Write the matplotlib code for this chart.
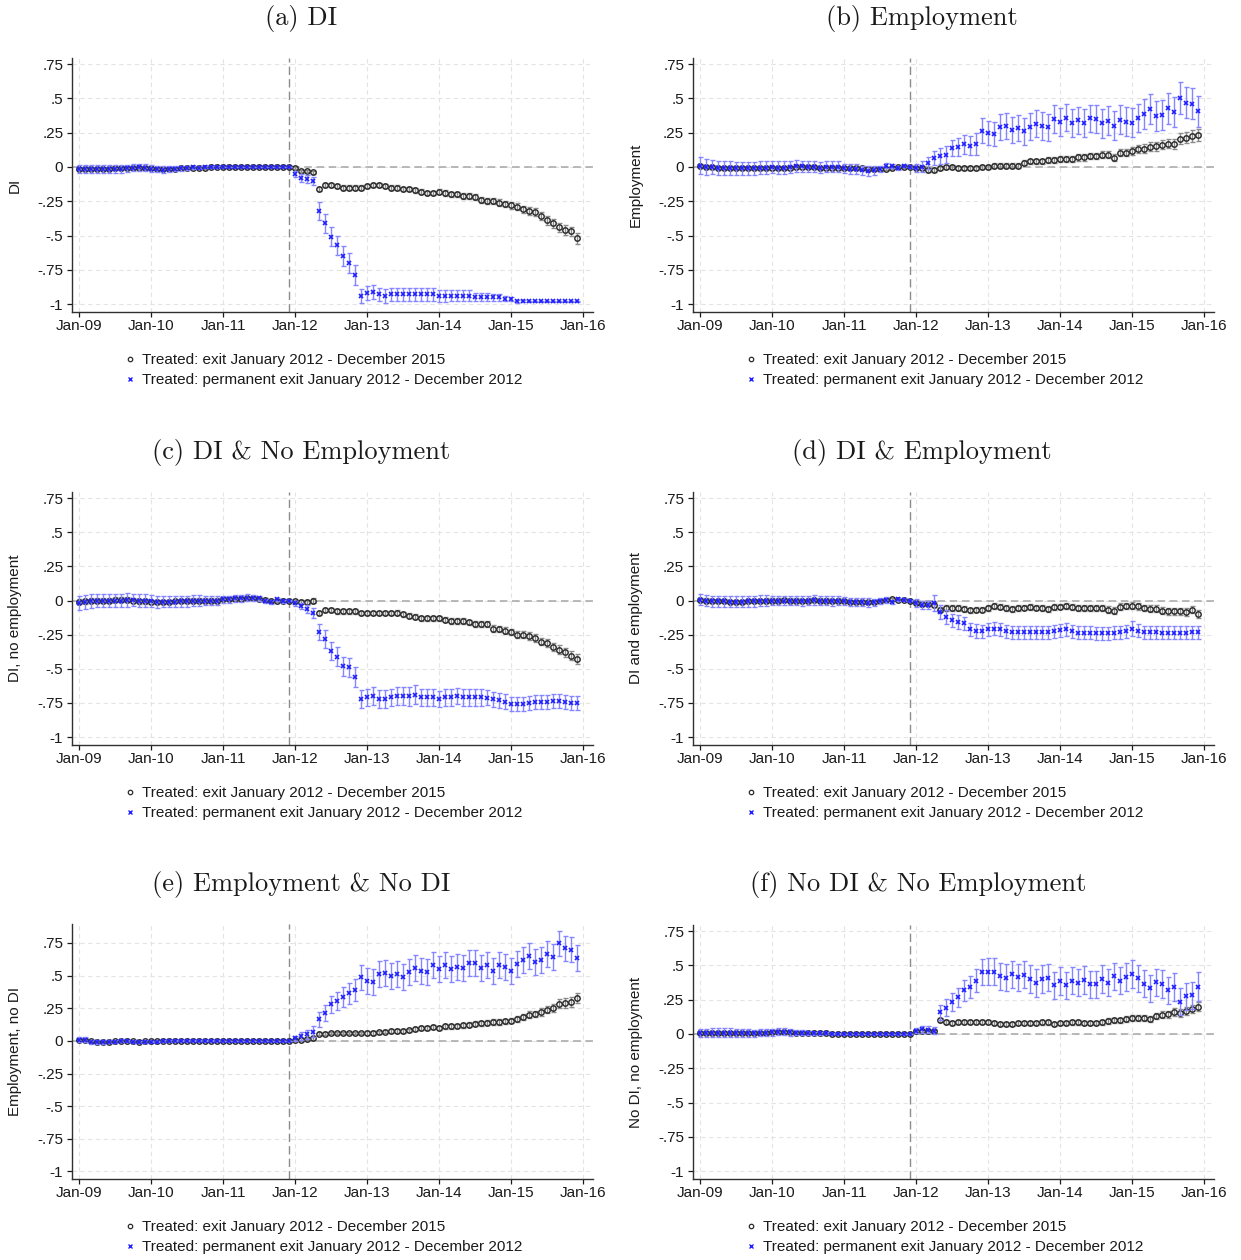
import matplotlib
matplotlib.use("Agg")
import matplotlib.pyplot as plt
from matplotlib.lines import Line2D

plt.rcParams["font.family"] = ["Liberation Sans", "DejaVu Sans"]
plt.rcParams["axes.formatter.use_mathtext"] = True

# --- Eje temporal: meses desde Jan-09 (0) hasta Dec-15 (83) ---
MONTHS = list(range(84))
EVENT_MONTH = 35  # Dec-11, mes de referencia
X_TICKS = [0, 12, 24, 36, 48, 60, 72, 84]
X_LABELS = ["Jan-09", "Jan-10", "Jan-11", "Jan-12", "Jan-13", "Jan-14", "Jan-15", "Jan-16"]
Y_TICKS = [-1, -0.75, -0.5, -0.25, 0, 0.25, 0.5, 0.75]
Y_LABELS = ["-1", "-.75", "-.5", "-.25", "0", ".25", ".5", ".75"]

LEGEND_LABELS = ["Treated: exit January 2012 - December 2015",
                 "Treated: permanent exit January 2012 - December 2012"]

# --- (a) DI ---
a_exit = [-0.015, -0.015, -0.012, -0.012, -0.012, -0.012, -0.01, -0.01, -0.01, -0.005, -0.005, -0.008,
          -0.01, -0.012, -0.015, -0.015, -0.012, -0.01, -0.008, -0.005, -0.005, -0.005, -0.003, -0.003,
          -0.002, 0, 0, 0, 0, 0, 0, 0, 0, 0, 0, 0,
          -0.01, -0.03, -0.03, -0.04, -0.16, -0.13, -0.13, -0.14, -0.15, -0.15, -0.15, -0.15,
          -0.14, -0.13, -0.13, -0.14, -0.15, -0.15, -0.16, -0.16, -0.17, -0.18, -0.19, -0.19,
          -0.18, -0.19, -0.20, -0.20, -0.21, -0.21, -0.22, -0.24, -0.25, -0.25, -0.26, -0.27,
          -0.28, -0.29, -0.31, -0.32, -0.33, -0.36, -0.39, -0.41, -0.44, -0.46, -0.47, -0.52]
a_exit_err = [0.012, 0.012, 0.012, 0.012, 0.012, 0.012, 0.012, 0.012, 0.012, 0.012, 0.012, 0.012,
              0.01, 0.01, 0.01, 0.01, 0.01, 0.01, 0.01, 0.01, 0.01, 0.01, 0.008, 0.006,
              0.004, 0.004, 0.004, 0.004, 0.004, 0.004, 0.004, 0.004, 0.004, 0.004, 0.004, 0.004,
              0.008, 0.01, 0.01, 0.012, 0.015, 0.015, 0.015, 0.015, 0.015, 0.015, 0.015, 0.015,
              0.015, 0.015, 0.015, 0.015, 0.015, 0.016, 0.016, 0.017, 0.017, 0.018, 0.018, 0.018,
              0.018, 0.019, 0.02, 0.02, 0.02, 0.021, 0.022, 0.022, 0.023, 0.023, 0.024, 0.025,
              0.025, 0.026, 0.027, 0.028, 0.029, 0.03, 0.031, 0.032, 0.033, 0.034, 0.035, 0.04]
a_perm = [-0.015, -0.015, -0.012, -0.012, -0.013, -0.012, -0.012, -0.012, -0.01, -0.005, -0.003, -0.006,
          -0.012, -0.015, -0.02, -0.015, -0.012, -0.01, -0.005, -0.002, -0.005, -0.002, -0.001, 0,
          0, 0, 0, 0, 0, 0, 0, 0, 0, 0, 0, 0,
          -0.05, -0.08, -0.09, -0.10, -0.32, -0.41, -0.51, -0.57, -0.65, -0.70, -0.79, -0.94,
          -0.92, -0.91, -0.93, -0.94, -0.93, -0.93, -0.93, -0.93, -0.93, -0.93, -0.93, -0.93,
          -0.94, -0.94, -0.94, -0.94, -0.94, -0.94, -0.95, -0.95, -0.95, -0.95, -0.95, -0.96,
          -0.96, -0.98, -0.98, -0.98, -0.98, -0.98, -0.98, -0.98, -0.98, -0.98, -0.98, -0.98]
a_perm_err = [0.03, 0.03, 0.03, 0.03, 0.03, 0.03, 0.03, 0.03, 0.025, 0.025, 0.025, 0.025,
              0.025, 0.025, 0.025, 0.02, 0.02, 0.02, 0.015, 0.01, 0.01, 0.008, 0.006, 0.005,
              0.003, 0.003, 0.003, 0.003, 0.003, 0.003, 0.003, 0.003, 0.003, 0.003, 0.003, 0.003,
              0.02, 0.03, 0.03, 0.03, 0.065, 0.07, 0.07, 0.07, 0.07, 0.07, 0.072, 0.05,
              0.05, 0.05, 0.05, 0.05, 0.05, 0.05, 0.05, 0.05, 0.05, 0.045, 0.045, 0.045,
              0.045, 0.045, 0.04, 0.04, 0.04, 0.04, 0.03, 0.03, 0.03, 0.025, 0.025, 0.02,
              0.015, 0.01, 0.006, 0.005, 0.005, 0.005, 0.005, 0.005, 0.005, 0.005, 0.005, 0.005]

# --- (b) Employment ---
b_exit = [0.005, 0, 0, -0.005, -0.008, -0.008, -0.008, -0.008, -0.01, -0.008, -0.008, -0.005,
          -0.005, -0.005, -0.005, -0.005, -0.003, 0, 0, -0.003, -0.005, -0.005, -0.008, -0.005,
          -0.005, -0.01, -0.01, -0.01, -0.012, -0.015, -0.015, -0.012, -0.005, 0, 0, 0,
          -0.01, -0.01, -0.02, -0.02, -0.01, 0, 0, -0.01, -0.01, -0.01, -0.01, 0,
          0, 0.01, 0.01, 0.01, 0.01, 0.01, 0.03, 0.04, 0.04, 0.04, 0.05, 0.05,
          0.06, 0.06, 0.06, 0.07, 0.07, 0.08, 0.08, 0.09, 0.088, 0.068, 0.105, 0.105,
          0.115, 0.134, 0.134, 0.149, 0.15, 0.163, 0.17, 0.17, 0.207, 0.212, 0.227, 0.232]
b_exit_err = [0.015, 0.015, 0.015, 0.015, 0.015, 0.015, 0.015, 0.015, 0.015, 0.015, 0.015, 0.015,
              0.015, 0.015, 0.015, 0.015, 0.015, 0.015, 0.015, 0.015, 0.015, 0.015, 0.015, 0.015,
              0.015, 0.015, 0.015, 0.015, 0.015, 0.015, 0.012, 0.01, 0.01, 0.008, 0.006, 0.004,
              0.012, 0.015, 0.015, 0.015, 0.015, 0.015, 0.015, 0.015, 0.015, 0.015, 0.015, 0.015,
              0.016, 0.017, 0.017, 0.018, 0.018, 0.018, 0.019, 0.02, 0.02, 0.02, 0.02, 0.021,
              0.021, 0.022, 0.022, 0.023, 0.023, 0.024, 0.024, 0.025, 0.025, 0.026, 0.027, 0.028,
              0.028, 0.029, 0.03, 0.031, 0.032, 0.033, 0.034, 0.036, 0.038, 0.04, 0.042, 0.045]
b_perm = [0.01, 0.0, 0.0, -0.01, -0.01, -0.01, -0.01, -0.01, -0.01, -0.01, -0.005, -0.005,
          0.0, -0.005, -0.005, 0.0, 0.005, 0.005, 0.0, 0.0, -0.005, 0.0, 0.0, 0.0,
          -0.01, -0.015, -0.015, -0.025, -0.03, -0.025, -0.015, 0.01, 0.01, -0.01, 0.01, 0.003,
          -0.01, 0.0, 0.03, 0.068, 0.08, 0.09, 0.137, 0.146, 0.166, 0.154, 0.166, 0.266,
          0.249, 0.241, 0.293, 0.30, 0.273, 0.285, 0.26, 0.295, 0.317, 0.30, 0.29, 0.35,
          0.327, 0.36, 0.32, 0.34, 0.32, 0.354, 0.35, 0.32, 0.337, 0.30, 0.344, 0.33,
          0.324, 0.358, 0.388, 0.42, 0.373, 0.378, 0.427, 0.40, 0.505, 0.47, 0.463, 0.405]
b_perm_err = [0.06, 0.055, 0.05, 0.05, 0.05, 0.05, 0.045, 0.045, 0.045, 0.045, 0.045, 0.045,
              0.045, 0.045, 0.045, 0.045, 0.045, 0.04, 0.04, 0.04, 0.04, 0.04, 0.04, 0.04,
              0.035, 0.035, 0.035, 0.035, 0.035, 0.03, 0.025, 0.02, 0.015, 0.015, 0.01, 0.01,
              0.03, 0.04, 0.045, 0.05, 0.055, 0.06, 0.06, 0.065, 0.07, 0.07, 0.08, 0.088,
              0.09, 0.09, 0.095, 0.095, 0.095, 0.095, 0.1, 0.1, 0.1, 0.1, 0.1, 0.105,
              0.1, 0.1, 0.1, 0.1, 0.1, 0.1, 0.105, 0.105, 0.105, 0.105, 0.105, 0.105,
              0.105, 0.105, 0.11, 0.11, 0.11, 0.11, 0.11, 0.11, 0.115, 0.11, 0.11, 0.11]

# --- (c) DI & No Employment ---
c_exit = [-0.01, -0.005, 0, 0, 0, 0, 0.005, 0.005, 0.005, 0, -0.005, -0.005,
          -0.01, -0.01, -0.01, -0.01, -0.005, -0.005, 0, 0, 0, 0, 0, 0,
          0.01, 0.01, 0.01, 0.01, 0.015, 0.015, 0.01, 0.005, 0, 0, 0, 0,
          -0.005, -0.012, -0.012, 0.0, -0.09, -0.07, -0.07, -0.08, -0.08, -0.08, -0.08, -0.09,
          -0.09, -0.09, -0.09, -0.09, -0.09, -0.09, -0.10, -0.11, -0.12, -0.13, -0.13, -0.13,
          -0.13, -0.14, -0.15, -0.15, -0.15, -0.16, -0.17, -0.17, -0.17, -0.205, -0.21, -0.22,
          -0.23, -0.25, -0.25, -0.26, -0.275, -0.30, -0.31, -0.34, -0.36, -0.38, -0.405, -0.427]
c_exit_err = [0.018, 0.018, 0.018, 0.018, 0.018, 0.018, 0.018, 0.018, 0.018, 0.018, 0.018, 0.018,
              0.016, 0.016, 0.016, 0.016, 0.016, 0.016, 0.016, 0.016, 0.016, 0.016, 0.016, 0.016,
              0.014, 0.014, 0.014, 0.014, 0.014, 0.014, 0.012, 0.012, 0.01, 0.01, 0.008, 0.006,
              0.012, 0.014, 0.015, 0.015, 0.015, 0.015, 0.015, 0.015, 0.015, 0.015, 0.016, 0.016,
              0.016, 0.016, 0.017, 0.017, 0.017, 0.018, 0.018, 0.018, 0.018, 0.019, 0.019, 0.019,
              0.02, 0.02, 0.02, 0.02, 0.021, 0.021, 0.021, 0.022, 0.022, 0.023, 0.023, 0.024,
              0.025, 0.026, 0.026, 0.027, 0.028, 0.029, 0.03, 0.031, 0.032, 0.033, 0.034, 0.036]
c_perm = [-0.02, -0.01, -0.005, 0, 0, 0, 0, 0, 0.005, 0.005, 0, 0,
          -0.005, -0.01, -0.01, -0.01, -0.01, -0.005, -0.005, 0, 0, 0, 0, 0,
          0.01, 0.01, 0.015, 0.015, 0.02, 0.02, 0.015, -0.005, -0.01, 0.01, -0.005, 0.0,
          -0.02, -0.04, -0.06, -0.09, -0.23, -0.28, -0.37, -0.41, -0.48, -0.49, -0.56, -0.72,
          -0.71, -0.70, -0.72, -0.72, -0.71, -0.70, -0.70, -0.70, -0.69, -0.71, -0.71, -0.71,
          -0.72, -0.71, -0.71, -0.70, -0.71, -0.71, -0.71, -0.71, -0.712, -0.724, -0.73, -0.74,
          -0.756, -0.76, -0.756, -0.749, -0.745, -0.744, -0.744, -0.737, -0.737, -0.744, -0.749, -0.749]
c_perm_err = [0.05, 0.05, 0.05, 0.05, 0.05, 0.05, 0.05, 0.05, 0.05, 0.045, 0.045, 0.045,
              0.045, 0.045, 0.04, 0.04, 0.04, 0.04, 0.04, 0.04, 0.04, 0.035, 0.035, 0.035,
              0.025, 0.025, 0.025, 0.025, 0.025, 0.02, 0.02, 0.015, 0.015, 0.01, 0.01, 0.005,
              0.02, 0.025, 0.03, 0.035, 0.06, 0.065, 0.065, 0.07, 0.07, 0.07, 0.07, 0.065,
              0.065, 0.065, 0.065, 0.065, 0.065, 0.065, 0.065, 0.07, 0.07, 0.065, 0.065, 0.065,
              0.06, 0.06, 0.06, 0.06, 0.06, 0.06, 0.06, 0.06, 0.055, 0.055, 0.055, 0.055,
              0.05, 0.05, 0.05, 0.05, 0.05, 0.05, 0.05, 0.05, 0.05, 0.05, 0.05, 0.05]

# --- (d) DI & Employment ---
d_exit = [0.005, 0, -0.005, -0.005, -0.005, -0.008, -0.008, -0.008, -0.005, -0.005, -0.003, 0,
          0, 0, 0.003, 0, 0, -0.003, 0, 0.003, 0, 0, -0.003, 0,
          -0.005, -0.008, -0.01, -0.01, -0.012, -0.01, -0.005, 0.005, 0.01, 0.005, 0.005, 0,
          -0.017, -0.024, -0.024, -0.03, -0.066, -0.054, -0.056, -0.054, -0.061, -0.071, -0.066, -0.066,
          -0.054, -0.041, -0.044, -0.054, -0.061, -0.056, -0.051, -0.046, -0.051, -0.056, -0.061, -0.049,
          -0.044, -0.042, -0.049, -0.051, -0.056, -0.056, -0.051, -0.051, -0.066, -0.073, -0.044, -0.042,
          -0.037, -0.042, -0.054, -0.059, -0.061, -0.073, -0.078, -0.078, -0.078, -0.083, -0.066, -0.098]
d_exit_err = [0.015, 0.015, 0.015, 0.015, 0.015, 0.015, 0.015, 0.015, 0.015, 0.015, 0.015, 0.015,
              0.015, 0.015, 0.015, 0.015, 0.015, 0.015, 0.015, 0.015, 0.015, 0.015, 0.015, 0.015,
              0.014, 0.014, 0.014, 0.014, 0.014, 0.013, 0.012, 0.011, 0.01, 0.008, 0.006, 0.004,
              0.015, 0.018, 0.018, 0.02, 0.02, 0.02, 0.02, 0.02, 0.02, 0.02, 0.02, 0.02,
              0.02, 0.02, 0.02, 0.02, 0.02, 0.02, 0.02, 0.02, 0.02, 0.021, 0.021, 0.021,
              0.021, 0.021, 0.021, 0.022, 0.022, 0.022, 0.022, 0.022, 0.023, 0.023, 0.023, 0.023,
              0.024, 0.024, 0.024, 0.025, 0.025, 0.025, 0.026, 0.026, 0.026, 0.027, 0.027, 0.028]
d_perm = [0.005, 0, -0.005, -0.005, -0.005, -0.008, -0.008, -0.008, -0.005, -0.005, -0.003, 0,
          0, 0, 0, 0, 0, -0.003, 0, 0.003, 0, 0, -0.003, 0,
          -0.005, -0.01, -0.01, -0.012, -0.015, -0.012, -0.005, 0.005, -0.01, 0.008, 0.005, 0.0,
          -0.02, -0.03, -0.03, -0.02, -0.083, -0.122, -0.146, -0.159, -0.168, -0.212, -0.224, -0.224,
          -0.212, -0.207, -0.212, -0.224, -0.232, -0.232, -0.232, -0.232, -0.232, -0.232, -0.232, -0.224,
          -0.217, -0.212, -0.224, -0.237, -0.237, -0.237, -0.24, -0.24, -0.24, -0.237, -0.232, -0.224,
          -0.207, -0.22, -0.232, -0.232, -0.232, -0.235, -0.235, -0.235, -0.235, -0.235, -0.232, -0.232]
d_perm_err = [0.04, 0.04, 0.04, 0.04, 0.04, 0.04, 0.04, 0.04, 0.04, 0.04, 0.04, 0.04,
              0.035, 0.035, 0.035, 0.035, 0.035, 0.035, 0.035, 0.035, 0.035, 0.035, 0.035, 0.035,
              0.03, 0.03, 0.03, 0.03, 0.03, 0.025, 0.02, 0.02, 0.015, 0.012, 0.01, 0.006,
              0.03, 0.03, 0.03, 0.06, 0.05, 0.05, 0.05, 0.05, 0.05, 0.05, 0.05, 0.048,
              0.048, 0.048, 0.048, 0.048, 0.048, 0.048, 0.048, 0.048, 0.048, 0.048, 0.048, 0.048,
              0.048, 0.048, 0.048, 0.048, 0.048, 0.048, 0.048, 0.048, 0.048, 0.048, 0.048, 0.048,
              0.055, 0.048, 0.048, 0.048, 0.048, 0.048, 0.048, 0.048, 0.048, 0.048, 0.048, 0.048]

# --- (e) Employment & No DI ---
e_exit = [0.005, 0.005, 0, -0.005, -0.005, -0.005, -0.003, 0, 0, -0.003, -0.005, -0.003,
          -0.003, -0.003, 0, 0, 0, 0, 0, 0, 0, 0, 0, 0,
          0, 0, 0, 0, 0, 0, 0, 0, 0, 0, 0, 0,
          0.01, 0.01, 0.015, 0.02, 0.055, 0.055, 0.06, 0.06, 0.06, 0.06, 0.06, 0.06,
          0.06, 0.06, 0.065, 0.07, 0.075, 0.075, 0.075, 0.08, 0.09, 0.095, 0.095, 0.105,
          0.10, 0.11, 0.11, 0.115, 0.12, 0.125, 0.13, 0.135, 0.14, 0.145, 0.145, 0.15,
          0.155, 0.17, 0.18, 0.20, 0.205, 0.22, 0.24, 0.25, 0.285, 0.29, 0.30, 0.33]
e_exit_err = [0.006, 0.006, 0.006, 0.006, 0.006, 0.006, 0.005, 0.005, 0.005, 0.005, 0.005, 0.005,
              0.004, 0.004, 0.004, 0.004, 0.004, 0.004, 0.003, 0.003, 0.003, 0.003, 0.003, 0.003,
              0.002, 0.002, 0.002, 0.002, 0.002, 0.002, 0.002, 0.002, 0.002, 0.002, 0.002, 0.002,
              0.008, 0.01, 0.01, 0.01, 0.01, 0.01, 0.01, 0.01, 0.01, 0.01, 0.01, 0.01,
              0.012, 0.012, 0.012, 0.012, 0.013, 0.013, 0.013, 0.014, 0.014, 0.015, 0.015, 0.015,
              0.016, 0.016, 0.017, 0.017, 0.018, 0.018, 0.019, 0.019, 0.02, 0.02, 0.021, 0.021,
              0.022, 0.023, 0.024, 0.025, 0.026, 0.028, 0.03, 0.031, 0.033, 0.035, 0.037, 0.04]
e_perm = [0.01, 0.01, -0.01, -0.01, -0.01, -0.005, -0.005, 0.0, 0.0, -0.005, -0.01, -0.005,
          -0.005, -0.005, 0, 0, 0, 0, 0, 0, 0, 0, 0, 0,
          0, 0, 0, 0, 0, 0, 0, 0, 0, 0, 0, 0,
          0.02, 0.04, 0.05, 0.07, 0.164, 0.215, 0.28, 0.307, 0.335, 0.363, 0.39, 0.486,
          0.46, 0.45, 0.51, 0.52, 0.50, 0.514, 0.49, 0.524, 0.555, 0.537, 0.524, 0.58,
          0.547, 0.58, 0.547, 0.568, 0.555, 0.593, 0.593, 0.555, 0.58, 0.537, 0.58, 0.563,
          0.537, 0.586, 0.62, 0.652, 0.606, 0.616, 0.665, 0.64, 0.747, 0.71, 0.698, 0.637]
e_perm_err = [0.02, 0.02, 0.015, 0.015, 0.015, 0.015, 0.012, 0.012, 0.01, 0.01, 0.01, 0.008,
              0.006, 0.005, 0.005, 0.005, 0.004, 0.004, 0.004, 0.003, 0.003, 0.003, 0.003, 0.003,
              0.002, 0.002, 0.002, 0.002, 0.002, 0.002, 0.002, 0.002, 0.002, 0.002, 0.002, 0.002,
              0.02, 0.03, 0.035, 0.04, 0.055, 0.06, 0.065, 0.07, 0.075, 0.08, 0.085, 0.098,
              0.1, 0.1, 0.1, 0.1, 0.1, 0.1, 0.1, 0.1, 0.1, 0.1, 0.1, 0.1,
              0.1, 0.1, 0.1, 0.1, 0.1, 0.1, 0.1, 0.1, 0.1, 0.1, 0.1, 0.1,
              0.1, 0.1, 0.1, 0.1, 0.1, 0.1, 0.1, 0.1, 0.095, 0.095, 0.095, 0.1]

# --- (f) No DI & No Employment ---
f_exit = [0.005, 0.005, 0.008, 0.008, 0.008, 0.008, 0.005, 0.005, 0.005, 0.005, 0.008, 0.01,
          0.012, 0.015, 0.015, 0.012, 0.01, 0.01, 0.008, 0.005, 0.005, 0.005, 0.003, 0.003,
          0.002, 0.002, 0.002, 0.002, 0.002, 0.002, 0.002, 0.002, 0.002, 0.002, 0.002, 0.002,
          0.02, 0.025, 0.02, 0.02, 0.105, 0.085, 0.08, 0.085, 0.09, 0.09, 0.09, 0.09,
          0.085, 0.08, 0.075, 0.075, 0.075, 0.08, 0.08, 0.08, 0.08, 0.085, 0.085, 0.075,
          0.08, 0.08, 0.085, 0.085, 0.08, 0.08, 0.08, 0.085, 0.095, 0.10, 0.10, 0.11,
          0.115, 0.12, 0.12, 0.11, 0.13, 0.14, 0.145, 0.16, 0.155, 0.17, 0.18, 0.20]
f_exit_err = [0.015, 0.015, 0.015, 0.015, 0.015, 0.015, 0.015, 0.015, 0.015, 0.015, 0.015, 0.015,
              0.015, 0.015, 0.015, 0.014, 0.013, 0.012, 0.011, 0.01, 0.009, 0.008, 0.006, 0.005,
              0.004, 0.004, 0.004, 0.004, 0.004, 0.004, 0.004, 0.004, 0.004, 0.004, 0.004, 0.004,
              0.012, 0.012, 0.012, 0.012, 0.015, 0.015, 0.015, 0.015, 0.015, 0.015, 0.015, 0.015,
              0.015, 0.015, 0.015, 0.015, 0.015, 0.015, 0.016, 0.016, 0.016, 0.016, 0.016, 0.016,
              0.017, 0.017, 0.017, 0.017, 0.018, 0.018, 0.018, 0.019, 0.019, 0.02, 0.02, 0.02,
              0.021, 0.022, 0.022, 0.023, 0.024, 0.025, 0.026, 0.027, 0.028, 0.029, 0.03, 0.03]
f_perm = [0.005, 0.005, 0.01, 0.01, 0.01, 0.01, 0.008, 0.008, 0.008, 0.005, 0.01, 0.01,
          0.012, 0.015, 0.015, 0.012, 0.01, 0.01, 0.008, 0.005, 0.005, 0.005, 0.003, 0.002,
          0, 0, 0, 0, 0, 0, 0, 0, 0, 0, 0, 0,
          0.025, 0.035, 0.03, 0.025, 0.158, 0.192, 0.231, 0.268, 0.319, 0.34, 0.39, 0.45,
          0.455, 0.455, 0.42, 0.41, 0.435, 0.414, 0.433, 0.40, 0.372, 0.40, 0.41, 0.355,
          0.387, 0.355, 0.39, 0.375, 0.394, 0.363, 0.363, 0.40, 0.375, 0.42, 0.39, 0.416,
          0.438, 0.406, 0.367, 0.333, 0.377, 0.365, 0.319, 0.343, 0.236, 0.275, 0.282, 0.345]
f_perm_err = [0.03, 0.03, 0.03, 0.03, 0.03, 0.03, 0.03, 0.03, 0.03, 0.025, 0.025, 0.025,
              0.025, 0.025, 0.025, 0.025, 0.02, 0.02, 0.015, 0.012, 0.01, 0.008, 0.006, 0.005,
              0.002, 0.002, 0.002, 0.002, 0.002, 0.002, 0.002, 0.002, 0.002, 0.002, 0.002, 0.002,
              0.02, 0.025, 0.025, 0.025, 0.055, 0.06, 0.065, 0.07, 0.075, 0.08, 0.085, 0.095,
              0.1, 0.1, 0.1, 0.1, 0.1, 0.1, 0.1, 0.1, 0.1, 0.1, 0.1, 0.1,
              0.1, 0.1, 0.1, 0.1, 0.1, 0.1, 0.1, 0.1, 0.1, 0.1, 0.1, 0.1,
              0.1, 0.1, 0.1, 0.1, 0.1, 0.1, 0.1, 0.1, 0.1, 0.1, 0.1, 0.105]

# --- Layout en píxeles (figura 1241x1260) ---
W, H = 1241, 1260
PANELS = [
    # titulo, etiqueta y, serie exit, err, serie perm, err, ytop, (izq, arriba, der, abajo), centro titulo, legend y
    ("(a) DI", "DI", a_exit, a_exit_err, a_perm, a_perm_err, 0.795, (72, 58, 593, 312), (301, 18), 360),
    ("(b) Employment", "Employment", b_exit, b_exit_err, b_perm, b_perm_err, 0.795, (693, 58, 1214, 312), (922, 18), 360),
    ("(c) DI & No Employment", "DI, no employment", c_exit, c_exit_err, c_perm, c_perm_err, 0.795, (72, 492, 593, 745), (301, 452), 793),
    ("(d) DI & Employment", "DI and employment", d_exit, d_exit_err, d_perm, d_perm_err, 0.795, (693, 492, 1214, 745), (922, 452), 793),
    ("(e) Employment & No DI", "Employment, no DI", e_exit, e_exit_err, e_perm, e_perm_err, 0.895, (72, 924, 593, 1179), (301, 885), 1227),
    ("(f) No DI & No Employment", "No DI, no employment", f_exit, f_exit_err, f_perm, f_perm_err, 0.795, (693, 925, 1214, 1179), (918, 885), 1227),
]

BLACK = "#2b2b2b"
BLACK_BAR = "#8a8a8a"
BLUE = "#1f1fff"
BLUE_BAR = "#8585ff"
TXT = "#1a1a1a"

fig = plt.figure(figsize=(W / 100, H / 100), dpi=100)

for title, ylabel, ex, ex_err, pm, pm_err, ytop, box, tpos, leg_y in PANELS:
    left, top, right, bottom = box
    ax = fig.add_axes([left / W, 1 - bottom / H, (right - left) / W, (bottom - top) / H])

    ax.set_xlim(-1.2, 85.7)
    ax.set_ylim(-1.058, ytop)

    ax.set_xticks(X_TICKS)
    ax.set_xticklabels(X_LABELS)
    ax.set_yticks(Y_TICKS)
    ax.set_yticklabels(Y_LABELS)
    ax.tick_params(axis="both", direction="out", length=3.8, width=0.9,
                   colors=TXT, labelsize=11)
    ax.tick_params(axis="x", pad=1)
    ax.tick_params(axis="y", pad=2.5)

    for side in ("top", "right"):
        ax.spines[side].set_visible(False)
    for side in ("left", "bottom"):
        ax.spines[side].set_color("#303030")
        ax.spines[side].set_linewidth(1.0)

    # rejilla estilo Stata
    for yv in Y_TICKS:
        ax.axhline(yv, color="#e4e4e4", lw=0.8, dashes=(4, 3), zorder=0)
    for xv in X_TICKS:
        ax.axvline(xv, color="#e4e4e4", lw=0.8, dashes=(4, 3), zorder=0)
    ax.axhline(0, color="#a6a6a6", lw=1.1, dashes=(5, 3), zorder=1)
    ax.axvline(EVENT_MONTH, color="#8c8c8c", lw=1.0, dashes=(6, 3), zorder=1)

    ax.errorbar(MONTHS, ex, yerr=ex_err, fmt="none", ecolor=BLACK_BAR,
                elinewidth=1.0, capsize=1.8, capthick=1.0, zorder=2)
    ax.plot(MONTHS, ex, "o", ms=3.9, mfc="none", mec=BLACK, mew=1.05,
            ls="none", zorder=3)
    ax.errorbar(MONTHS, pm, yerr=pm_err, fmt="none", ecolor=BLUE_BAR,
                elinewidth=1.0, capsize=1.8, capthick=1.0, zorder=4)
    ax.plot(MONTHS, pm, "x", ms=3.4, color=BLUE, mew=1.2, ls="none", zorder=5)

    # etiqueta del eje y: centro a 57 px a la izquierda del eje
    ax.set_ylabel(ylabel, fontsize=11, color=TXT, va="center")
    ax.yaxis.set_label_coords(-57 / (right - left), 0.5)

    fig.text(tpos[0] / W, 1 - tpos[1] / H, title, ha="center", va="center",
             fontsize=19, family=["cmr10", "DejaVu Serif"], color=TXT)

    handles = [
        Line2D([], [], marker="o", ls="none", ms=3.2, mfc="none", mec=BLACK, mew=0.9),
        Line2D([], [], marker="x", ls="none", ms=3.0, color=BLUE, mew=1.0),
    ]
    mx = left + 58
    ax.legend(handles, LEGEND_LABELS, loc="upper left", frameon=False,
              bbox_to_anchor=((mx - 4.5) / W, 1 - (leg_y - 7) / H),
              bbox_transform=fig.transFigure, borderpad=0, borderaxespad=0,
              handlelength=0.6, handletextpad=0.45, labelspacing=0.42,
              fontsize=11, labelcolor=TXT)

fig.savefig("out.png", dpi=100)
